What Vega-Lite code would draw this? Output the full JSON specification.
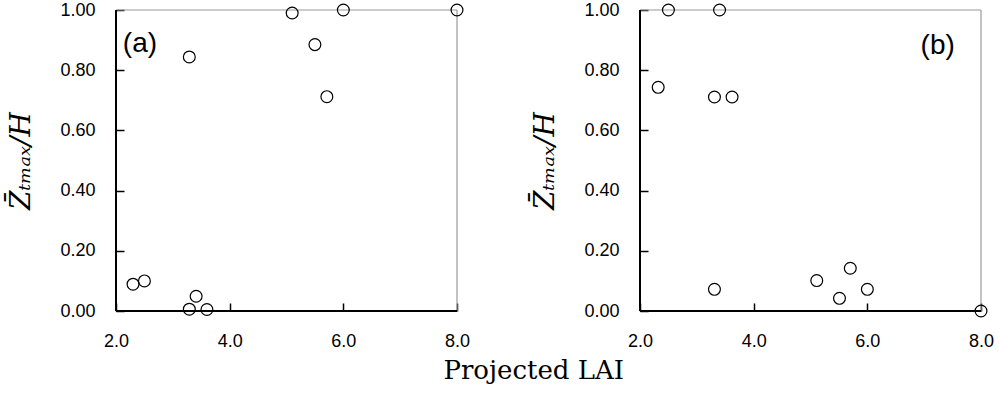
{
  "$schema": "https://vega.github.io/schema/vega-lite/v6.json",
  "padding": {"left": 7, "top": 1, "right": 0, "bottom": 0},
  "background": "white",
  "config": {
    "view": {"stroke": null},
    "font": "Liberation Sans",
    "axis": {
      "grid": false,
      "zindex": 1,
      "domain": false,
      "offset": -8,
      "ticks": true,
      "tickColor": "black",
      "tickOpacity": 1,
      "tickWidth": 1.5,
      "tickSize": 8,
      "labelFlush": false,
      "labelFont": "Liberation Sans",
      "labelFontSize": 18,
      "labelColor": "black",
      "titleFont": "DejaVu Serif",
      "titleFontSize": 28,
      "titleFontWeight": "normal",
      "titleFontStyle": "italic",
      "titleColor": "black"
    },
    "concat": {"spacing": 61}
  },
  "datasets": {
    "a": [
      {"lai": 5.1, "z": 0.99},
      {"lai": 6.0, "z": 1.0},
      {"lai": 8.0, "z": 1.0},
      {"lai": 5.5, "z": 0.885},
      {"lai": 5.71, "z": 0.712},
      {"lai": 3.29, "z": 0.844},
      {"lai": 2.3, "z": 0.089},
      {"lai": 2.5, "z": 0.1},
      {"lai": 3.41, "z": 0.049},
      {"lai": 3.29, "z": 0.006},
      {"lai": 3.6, "z": 0.005}
    ],
    "b": [
      {"lai": 2.5, "z": 1.0},
      {"lai": 3.4, "z": 1.0},
      {"lai": 2.32, "z": 0.743},
      {"lai": 3.31, "z": 0.711},
      {"lai": 3.62, "z": 0.711},
      {"lai": 3.31, "z": 0.072},
      {"lai": 5.11, "z": 0.101},
      {"lai": 5.7, "z": 0.142},
      {"lai": 5.51, "z": 0.042},
      {"lai": 6.0, "z": 0.072},
      {"lai": 8.0, "z": 0.0}
    ]
  },
  "title": {
    "text": "Projected LAI",
    "orient": "bottom",
    "anchor": "middle",
    "font": "DejaVu Serif",
    "fontSize": 26,
    "fontWeight": "normal",
    "color": "black",
    "offset": 8,
    "dx": 33
  },
  "hconcat": [
    {
      "width": 341,
      "height": 301,
      "layer": [
        {
          "data": {"values": [{}]},
          "mark": {"type": "rule", "color": "#9a9a9a", "strokeWidth": 1.2},
          "encoding": {"x": {"datum": 8}, "y": {"datum": 0}, "y2": {"datum": 1}}
        },
        {
          "data": {"values": [{}]},
          "mark": {"type": "rule", "color": "#9a9a9a", "strokeWidth": 1.2},
          "encoding": {"y": {"datum": 1}, "x": {"datum": 2}, "x2": {"datum": 8}}
        },
        {
          "data": {"values": [{}]},
          "mark": {"type": "rule", "color": "black", "strokeWidth": 2},
          "encoding": {"x": {"datum": 2}, "y": {"datum": 0}, "y2": {"datum": 1}}
        },
        {
          "data": {"values": [{}]},
          "mark": {"type": "rule", "color": "black", "strokeWidth": 2},
          "encoding": {"y": {"datum": 0}, "x": {"datum": 2}, "x2": {"datum": 8}}
        },
        {
          "data": {"name": "a"},
          "mark": {"type": "point", "shape": "circle", "filled": false, "stroke": "black", "strokeWidth": 1.2, "size": 140, "opacity": 1},
          "encoding": {
            "x": {"field": "lai", "type": "quantitative", "scale": {"domain": [2, 8], "nice": false, "zero": false},
                  "axis": {"values": [2, 4, 6, 8], "format": ".1f", "title": null, "labelPadding": 21}},
            "y": {"field": "z", "type": "quantitative", "scale": {"domain": [0, 1], "nice": false},
                  "axis": {"values": [0, 0.2, 0.4, 0.6, 0.8, 1.0], "format": ".2f", "title": "Z̄ₜₘₐₓ/H", "labelPadding": 21, "titlePadding": 24}}
          }
        },
        {
          "data": {"values": [{}]},
          "mark": {"type": "text", "fontSize": 28, "align": "left", "baseline": "middle", "font": "Liberation Sans", "color": "black"},
          "encoding": {"x": {"datum": 2.12}, "y": {"datum": 0.886}, "text": {"value": "(a)"}}
        }
      ]
    },
    {
      "width": 341,
      "height": 301,
      "layer": [
        {
          "data": {"values": [{}]},
          "mark": {"type": "rule", "color": "#9a9a9a", "strokeWidth": 1.2},
          "encoding": {"x": {"datum": 8}, "y": {"datum": 0}, "y2": {"datum": 1}}
        },
        {
          "data": {"values": [{}]},
          "mark": {"type": "rule", "color": "#9a9a9a", "strokeWidth": 1.2},
          "encoding": {"y": {"datum": 1}, "x": {"datum": 2}, "x2": {"datum": 8}}
        },
        {
          "data": {"values": [{}]},
          "mark": {"type": "rule", "color": "black", "strokeWidth": 2},
          "encoding": {"x": {"datum": 2}, "y": {"datum": 0}, "y2": {"datum": 1}}
        },
        {
          "data": {"values": [{}]},
          "mark": {"type": "rule", "color": "black", "strokeWidth": 2},
          "encoding": {"y": {"datum": 0}, "x": {"datum": 2}, "x2": {"datum": 8}}
        },
        {
          "data": {"name": "b"},
          "mark": {"type": "point", "shape": "circle", "filled": false, "stroke": "black", "strokeWidth": 1.2, "size": 140, "opacity": 1},
          "encoding": {
            "x": {"field": "lai", "type": "quantitative", "scale": {"domain": [2, 8], "nice": false, "zero": false},
                  "axis": {"values": [2, 4, 6, 8], "format": ".1f", "title": null, "labelPadding": 21}},
            "y": {"field": "z", "type": "quantitative", "scale": {"domain": [0, 1], "nice": false},
                  "axis": {"values": [0, 0.2, 0.4, 0.6, 0.8, 1.0], "format": ".2f", "title": "Z̄ₜₘₐₓ/H", "labelPadding": 21, "titlePadding": 24}}
          }
        },
        {
          "data": {"values": [{}]},
          "mark": {"type": "text", "fontSize": 28, "align": "right", "baseline": "middle", "font": "Liberation Sans", "color": "black"},
          "encoding": {"x": {"datum": 7.54}, "y": {"datum": 0.88}, "text": {"value": "(b)"}}
        }
      ]
    }
  ]
}
